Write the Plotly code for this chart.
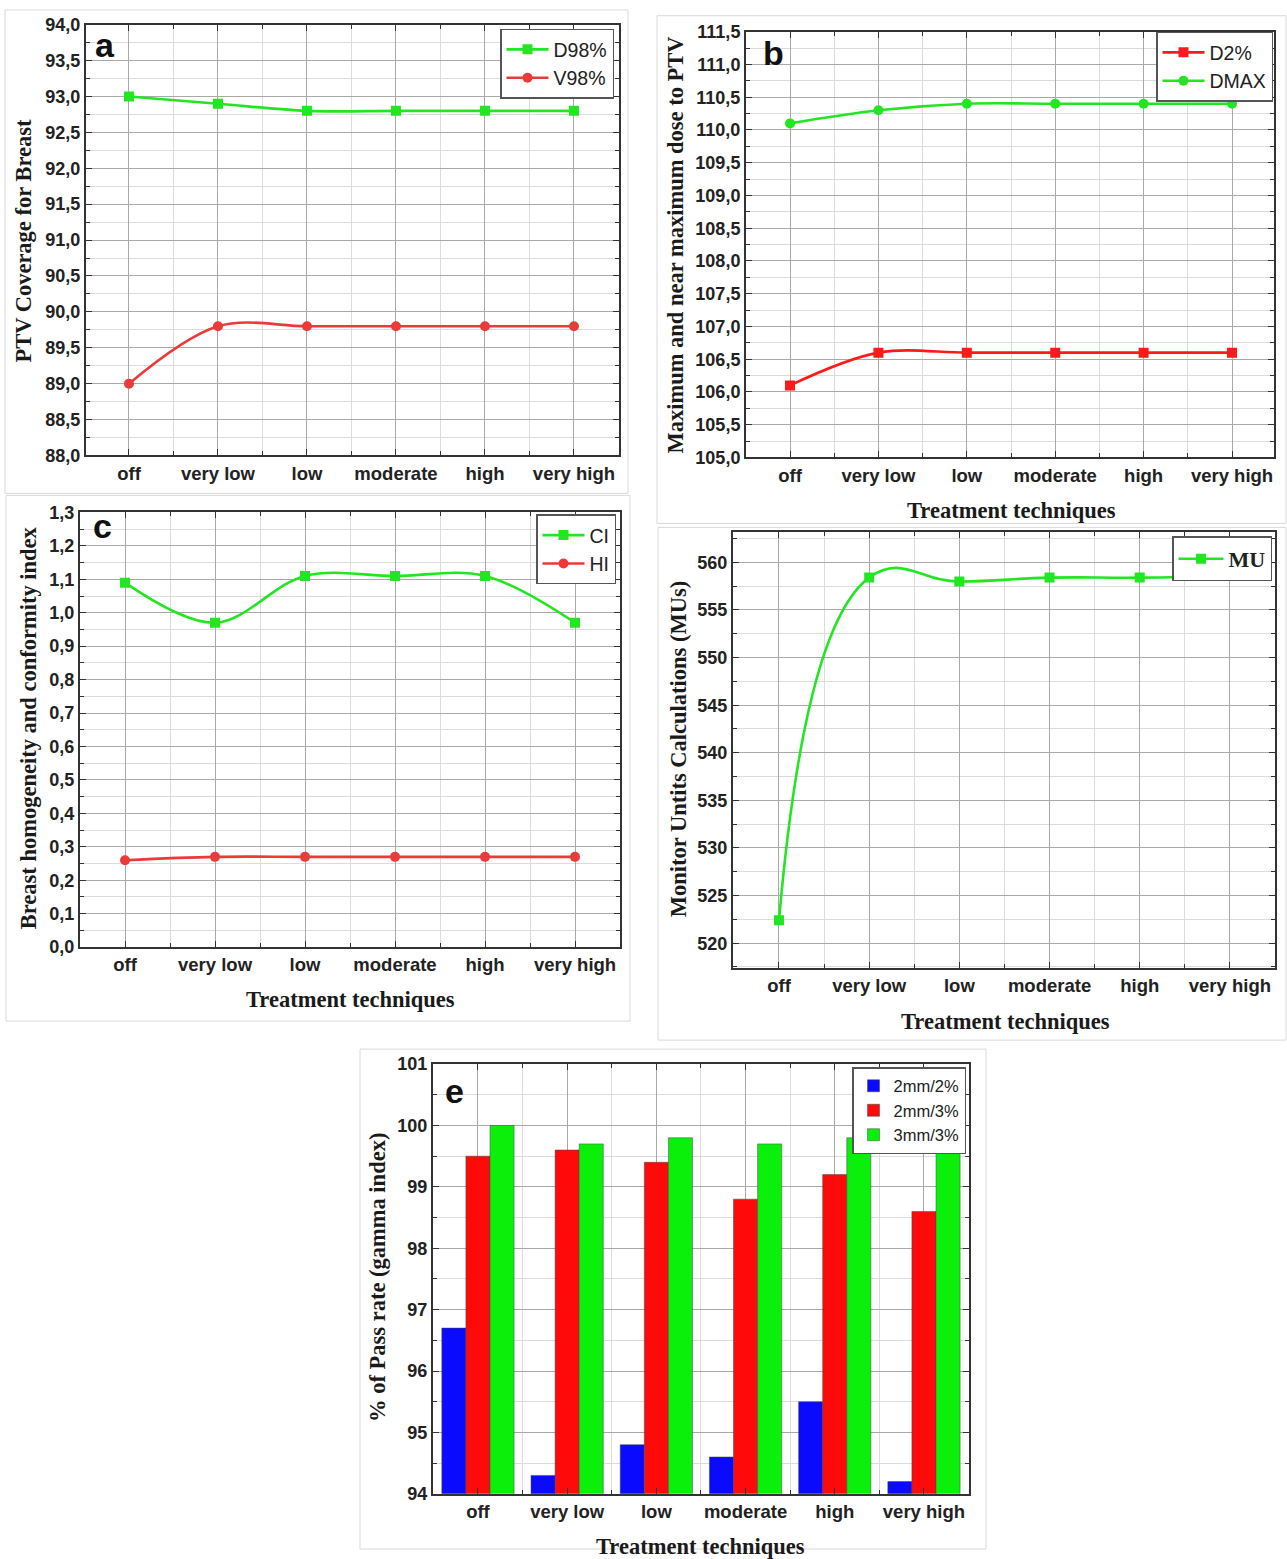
import plotly.graph_objects as go

# ---- data -------------------------------------------------------------
techniques = ["off", "very low", "low", "moderate", "high", "very high"]
pos = list(range(len(techniques)))

d98 = [93.0, 92.9, 92.8, 92.8, 92.8, 92.8]
v98 = [89.0, 89.8, 89.8, 89.8, 89.8, 89.8]

d2 = [106.1, 106.6, 106.6, 106.6, 106.6, 106.6]
dmax = [110.1, 110.3, 110.4, 110.4, 110.4, 110.4]

ci = [1.09, 0.97, 1.11, 1.11, 1.11, 0.97]
hi = [0.26, 0.27, 0.27, 0.27, 0.27, 0.27]

mu = [522.4, 558.4, 558.0, 558.4, 558.4, 558.6]

gamma_2mm2 = [96.7, 94.3, 94.8, 94.6, 95.5, 94.2]
gamma_2mm3 = [99.5, 99.6, 99.4, 98.8, 99.2, 98.6]
gamma_3mm3 = [100.0, 99.7, 99.8, 99.7, 99.8, 99.6]

# ---- page geometry (pixels -> paper fractions) --------------------------
W, H = 1287, 1559
# vertical placement on the page: small top inset and slight vertical squeeze
Y_INSET, Y_SCALE = 9.29, 0.98776


def page_y(y):
    return (y - Y_INSET) / Y_SCALE


def px_x(a, b):
    return [a / W, b / W]


def px_y(top, bottom):
    return [max(0.0, 1 - page_y(bottom) / H), min(1.0, 1 - page_y(top) / H)]


def px(x):
    return x / W


def py(y):
    return 1 - page_y(y) / H


GREEN = "#22e622"
RED = "#ea3a3a"
PURE_RED = "#ff1a1a"
XTICK_FONT = dict(family="Liberation Sans, Arial", size=18.5, color="#222222", weight="bold")
YTICK_FONT = dict(family="Liberation Sans, Arial", size=18, color="#222222", weight="bold")
TITLE_FONT = dict(family="Liberation Serif, Times New Roman", size=22.5, color="#1a1a1a", weight="bold")
LEG_FONT = dict(family="Liberation Sans, Arial", size=19.5, color="#222222")

fig = go.Figure()


def line_trace(y, name, color, symbol, ax, legend, smoothing=1.0):
    return go.Scatter(
        x=pos, y=y, name=name, mode="lines+markers",
        line=dict(color=color, width=2.6, shape="spline", smoothing=smoothing),
        marker=dict(color=color, symbol=symbol, size=10),
        xaxis="x" + ax, yaxis="y" + ax, legend=legend,
    )


# panel a
fig.add_trace(line_trace(d98, "D98%", GREEN, "square", "", "legend"))
fig.add_trace(line_trace(v98, "V98%", RED, "circle", "", "legend"))
# panel b
fig.add_trace(line_trace(d2, "D2%", PURE_RED, "square", "2", "legend2"))
fig.add_trace(line_trace(dmax, "DMAX", GREEN, "circle", "2", "legend2"))
# panel c
fig.add_trace(line_trace(ci, "CI", GREEN, "square", "3", "legend3"))
fig.add_trace(line_trace(hi, "HI", RED, "circle", "3", "legend3"))
# panel d
fig.add_trace(line_trace(mu, "MU", GREEN, "square", "4", "legend4", smoothing=1.3))
# panel e
for vals, name, col in [(gamma_2mm2, "2mm/2%", "#0a0aff"),
                        (gamma_2mm3, "2mm/3%", "#ff0a0a"),
                        (gamma_3mm3, "3mm/3%", "#0af00a")]:
    fig.add_trace(go.Bar(
        x=pos, y=vals, name=name, marker=dict(color=col, line=dict(color="#444444", width=0.5)),
        xaxis="x5", yaxis="y5", legend="legend5",
    ))


def xaxis(domain, rng, anchor):
    return dict(
        domain=domain, range=rng, anchor=anchor,
        tickmode="array", tickvals=pos, ticktext=techniques,
        showline=True, linecolor="#333333", linewidth=2, mirror="allticks",
        ticks="inside", ticklen=6, tickcolor="#333333",
        showgrid=True, gridcolor="#a9a9a9", gridwidth=1,
        minor=dict(tickmode="linear", tick0=0.5, dtick=1, ticks="inside", ticklen=4,
                   tickcolor="#333333", showgrid=True, gridcolor="#dcdcdc"),
        tickfont=XTICK_FONT, zeroline=False, fixedrange=True,
    )


def yaxis(domain, rng, anchor, dtick, minor, fmt):
    return dict(
        domain=domain, range=rng, anchor=anchor,
        tickmode="linear", tick0=0, dtick=dtick, tickformat=fmt,
        showline=True, linecolor="#333333", linewidth=2, mirror="allticks",
        ticks="inside", ticklen=6, tickcolor="#333333",
        showgrid=True, gridcolor="#a9a9a9", gridwidth=1,
        minor=dict(dtick=minor, ticks="inside", ticklen=4, tickcolor="#333333",
                   showgrid=True, gridcolor="#dcdcdc"),
        tickfont=YTICK_FONT, zeroline=False, fixedrange=True,
    )


fig.update_layout(
    width=W, height=H,
    margin=dict(l=0, r=0, t=0, b=0),
    paper_bgcolor="white", plot_bgcolor="white",
    separators=", ",
    barmode="group", bargap=0.19, bargroupgap=0.0,
    xaxis=xaxis(px_x(86, 619), [-0.483, 5.506], "y"),
    yaxis=yaxis(px_y(24, 455), [88, 94], "x", 0.5, 0.25, ".1f"),
    xaxis2=xaxis(px_x(746, 1274), [-0.498, 5.475], "y2"),
    yaxis2=yaxis(px_y(31, 457), [105, 111.5], "x2", 0.5, 0.25, ".1f"),
    xaxis3=xaxis(px_x(80, 620), [-0.5, 5.5], "y3"),
    yaxis3=yaxis(px_y(512, 947), [0, 1.3], "x3", 0.1, 0.05, ".1f"),
    xaxis4=xaxis(px_x(733, 1275), [-0.51, 5.5], "y4"),
    yaxis4=yaxis(px_y(532, 968), [517.38, 563.15], "x4", 5, 2.5, "d"),
    xaxis5=xaxis(px_x(433, 969), [-0.504, 5.505], "y5"),
    yaxis5=yaxis(px_y(1064, 1494), [94, 101], "x5", 1, 0.5, "d"),
)

# legends, one per panel
leg_common = dict(bgcolor="white", bordercolor="#555555", borderwidth=1.5,
                  xanchor="right", yanchor="top", tracegroupgap=0, itemclick=False)
fig.update_layout(
    legend=dict(x=px(614), y=py(28), font=LEG_FONT, itemwidth=42, **leg_common),
    legend2=dict(x=px(1273), y=py(31), font=LEG_FONT, itemwidth=42, **leg_common),
    legend3=dict(x=px(616), y=py(514), font=LEG_FONT, itemwidth=42, **leg_common),
    legend4=dict(x=px(1272), y=py(536), itemwidth=45,
                 font=dict(family="Liberation Serif, Times New Roman", size=22,
                           color="#222222", weight="bold"), **leg_common),
    legend5=dict(x=px(966), y=py(1067),
                 font=dict(family="Liberation Sans, Arial", size=16.5, color="#222222"),
                 **leg_common),
)

# light frames around each panel
frames = [(5, 8, 628, 493), (657, 15, 1286, 523), (6, 495, 630, 1021),
          (658, 527, 1286, 1040), (360, 1049, 986, 1558)]
for x0, y0, x1, y1 in frames:
    fig.add_shape(type="rect", xref="paper", yref="paper",
                  x0=px(x0), x1=px(x1), y0=max(0.0, py(y1)), y1=min(1.0, py(y0)),
                  line=dict(color="#d9d9d9", width=1), layer="below")

# panel letters
for letter, x, y in [("a", 105, 44), ("b", 774, 52), ("c", 102, 526), ("e", 454, 1091)]:
    fig.add_annotation(text=letter, x=px(x), y=py(y), xref="paper", yref="paper",
                       showarrow=False, xanchor="center", yanchor="middle",
                       font=dict(family="Liberation Sans, Arial", size=34,
                                 color="#111111", weight="bold"))

# axis titles
y_titles = [("PTV Coverage for Breast", 24, 240),
            ("Maximum and near maximum dose to PTV", 676, 245),
            ("Breast homogeneity and conformity index", 28, 728),
            ("Monitor Untits Calculations (MUs)", 678, 749),
            ("% of Pass rate (gamma index)", 378, 1278)]
for text, x, y in y_titles:
    fig.add_annotation(text=text, x=px(x), y=py(y), xref="paper", yref="paper",
                       showarrow=False, textangle=-90, xanchor="center", yanchor="middle",
                       font=TITLE_FONT)

x_titles = [(1011, 510), (350, 999), (1005, 1021), (700, 1547)]
for x, y in x_titles:
    fig.add_annotation(text="Treatment techniques", x=px(x), y=py(y),
                       xref="paper", yref="paper", showarrow=False,
                       xanchor="center", yanchor="middle", font=TITLE_FONT)

fig.write_html("out.html")
